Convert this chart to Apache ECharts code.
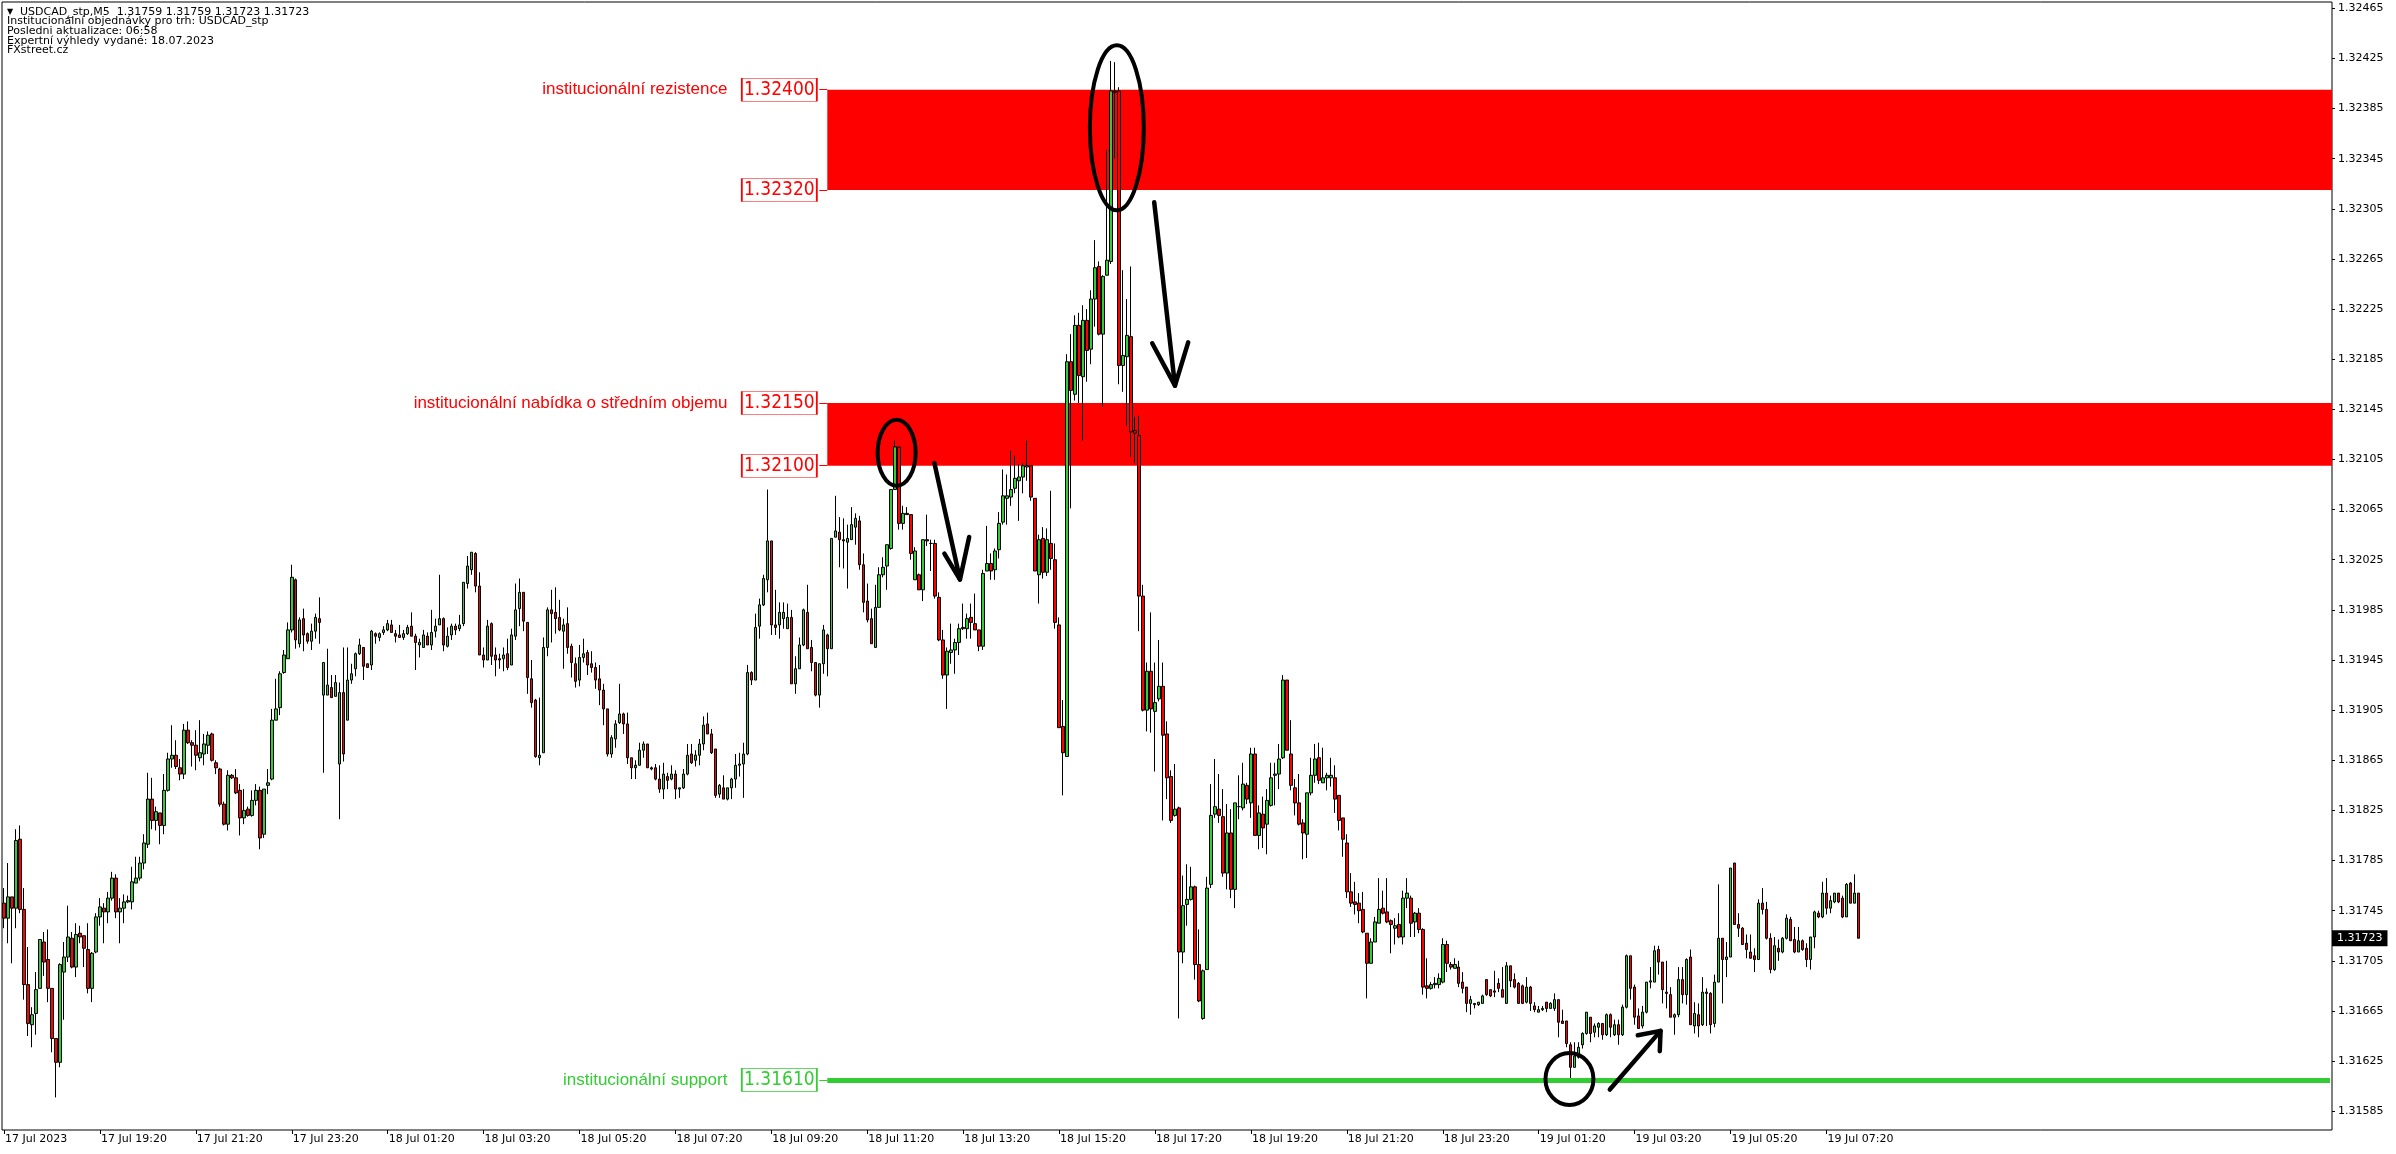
<!DOCTYPE html>
<html><head><meta charset="utf-8">
<script src="https://cdn.jsdelivr.net/npm/echarts@6/dist/echarts.min.js"></script>
<style>html,body{margin:0;padding:0;background:#fff;}#c{width:2396px;height:1154px;}</style>
</head><body><div id="c"></div>
<script>
const xTickLabels = ["17 Jul 2023","17 Jul 19:20","17 Jul 21:20","17 Jul 23:20","18 Jul 01:20","18 Jul 03:20","18 Jul 05:20","18 Jul 07:20","18 Jul 09:20","18 Jul 11:20","18 Jul 13:20","18 Jul 15:20","18 Jul 17:20","18 Jul 19:20","18 Jul 21:20","18 Jul 23:20","19 Jul 01:20","19 Jul 03:20","19 Jul 05:20","19 Jul 07:20"];
const yTicks = [1.31585,1.31625,1.31665,1.31705,1.31745,1.31785,1.31825,1.31865,1.31905,1.31945,1.31985,1.32025,1.32065,1.32105,1.32145,1.32185,1.32225,1.32265,1.32305,1.32345,1.32385,1.32425,1.32465];

const openPrices = [
1.31751,1.31739,1.31756,1.31747,1.31802,1.31746,1.31686,1.31654,1.31663,1.31683,
1.31720,1.31706,1.31683,1.31643,1.31624,1.31696,1.31708,1.31723,1.31700,1.31727,
1.31725,1.31714,1.31683,1.31712,1.31740,1.31747,1.31744,1.31755,1.31771,1.31744,
1.31747,1.31752,1.31752,1.31767,1.31771,1.31783,1.31798,1.31834,1.31817,1.31823,
1.31813,1.31841,1.31866,1.31869,1.31859,1.31854,1.31889,1.31879,1.31877,1.31867,
1.31870,1.31877,1.31886,1.31863,1.31858,1.31830,1.31814,1.31853,1.31851,1.31841,
1.31819,1.31826,1.31821,1.31833,1.31841,1.31806,1.31845,1.31850,1.31897,1.31907,
1.31935,1.31946,1.31969,1.32009,1.31958,1.31978,1.31966,1.31960,1.31968,1.31978,
1.31917,1.31917,1.31923,1.31916,1.31862,1.31919,1.31897,1.31929,1.31938,1.31950,
1.31955,1.31942,1.31941,1.31966,1.31963,1.31967,1.31969,1.31973,1.31966,1.31965,
1.31963,1.31966,1.31972,1.31964,1.31957,1.31955,1.31964,1.31957,1.31968,1.31973,
1.31978,1.31956,1.31965,1.31972,1.31970,1.31974,1.32006,1.32017,1.32030,1.32004,
1.31949,1.31945,1.31974,1.31949,1.31946,1.31946,1.31950,1.31941,1.31964,1.31986,
1.31999,1.31975,1.31930,1.31913,1.31867,1.31871,1.31955,1.31985,1.31983,1.31979,
1.31968,1.31974,1.31956,1.31942,1.31929,1.31947,1.31951,1.31942,1.31939,1.31930,
1.31921,1.31906,1.31870,1.31882,1.31895,1.31902,1.31894,1.31867,1.31859,1.31861,
1.31873,1.31878,1.31859,1.31859,1.31850,1.31842,1.31852,1.31850,1.31854,1.31842,
1.31843,1.31854,1.31870,1.31865,1.31869,1.31878,1.31894,1.31886,1.31874,1.31838,
1.31843,1.31834,1.31843,1.31850,1.31861,1.31862,1.31870,1.31935,1.31929,1.31972,
1.31989,1.32009,1.32040,1.31973,1.31973,1.31978,1.31970,1.31979,1.31926,1.31938,
1.31957,1.31983,1.31955,1.31943,1.31917,1.31942,1.31965,1.31954,1.32043,1.32047,
1.32041,1.32039,1.32041,1.32051,1.32056,1.32021,1.31992,1.31978,1.31955,1.31987,
1.32013,1.32020,1.32034,1.32081,1.32115,1.32054,1.32062,1.32061,1.32009,1.32013,
1.32001,1.32041,1.32038,1.32038,1.31995,1.31961,1.31933,1.31951,1.31953,1.31959,
1.31970,1.31970,1.31979,1.31974,1.31969,1.31956,1.32016,1.32022,1.32017,1.32033,
1.32055,1.32074,1.32075,1.32082,1.32088,1.32091,1.32099,1.32100,1.32074,1.32013,
1.32042,1.32015,1.32038,1.32025,1.31973,1.31892,1.31868,1.32183,1.32157,1.32212,
1.32171,1.32216,1.32193,1.32233,1.32259,1.32205,1.32252,1.32263,1.32399,1.32399,
1.32180,1.32187,1.32203,1.32128,1.32124,1.31996,1.31905,1.31936,1.31904,1.31914,
1.31924,1.31886,1.31852,1.31821,1.31827,1.31712,1.31750,1.31754,1.31764,1.31702,
1.31659,1.31698,1.31766,1.31822,1.31826,1.31820,1.31775,1.31807,1.31762,1.31828,
1.31827,1.31845,1.31831,1.31870,1.31805,1.31822,1.31814,1.31829,1.31853,1.31854,
1.31867,1.31929,1.31870,1.31843,1.31831,1.31815,1.31806,1.31839,1.31853,1.31867,
1.31847,1.31851,1.31851,1.31851,1.31837,1.31819,1.31799,1.31760,1.31752,1.31751,
1.31746,1.31727,1.31703,1.31720,1.31735,1.31747,1.31744,1.31737,1.31731,1.31734,
1.31724,1.31755,1.31755,1.31736,1.31743,1.31730,1.31685,1.31683,1.31686,1.31686,
1.31688,1.31718,1.31702,1.31699,1.31700,1.31688,1.31684,1.31671,1.31671,1.31670,
1.31671,1.31690,1.31682,1.31681,1.31687,1.31682,1.31671,1.31701,1.31690,1.31687,
1.31685,1.31672,1.31684,1.31669,1.31664,1.31666,1.31672,1.31667,1.31667,1.31674,
1.31657,1.31657,1.31638,1.31620,1.31628,1.31638,1.31647,1.31660,1.31648,1.31652,
1.31655,1.31646,1.31662,1.31646,1.31654,1.31646,1.31668,1.31709,1.31684,1.31661,
1.31653,1.31664,1.31688,1.31688,1.31714,1.31704,1.31680,1.31678,1.31660,1.31662,
1.31690,1.31678,1.31708,1.31653,1.31662,1.31654,1.31680,1.31679,1.31655,1.31688,
1.31723,1.31706,1.31708,1.31783,1.31734,1.31731,1.31719,1.31712,1.31709,1.31706,
1.31751,1.31746,1.31723,1.31698,1.31715,1.31712,1.31723,1.31738,1.31722,1.31712,
1.31721,1.31715,1.31706,1.31724,1.31743,1.31740,1.31759,1.31747,1.31752,1.31759,
1.31755,1.31740,1.31767,1.31751,1.31759];

const highPrices = [
1.31763,1.31783,1.31756,1.31810,1.31813,1.31763,1.31716,1.31668,1.31696,1.31722,
1.31728,1.31730,1.31683,1.31643,1.31703,1.31720,1.31749,1.31728,1.31735,1.31733,
1.31725,1.31735,1.31712,1.31743,1.31755,1.31751,1.31760,1.31776,1.31774,1.31755,
1.31758,1.31757,1.31780,1.31788,1.31788,1.31806,1.31855,1.31851,1.31828,1.31823,
1.31854,1.31871,1.31893,1.31881,1.31866,1.31894,1.31896,1.31881,1.31889,1.31897,
1.31886,1.31888,1.31887,1.31865,1.31859,1.31832,1.31857,1.31854,1.31858,1.31846,
1.31842,1.31828,1.31841,1.31846,1.31844,1.31842,1.31858,1.31906,1.31930,1.31936,
1.31953,1.31975,1.32021,1.32010,1.31979,1.31986,1.31967,1.31974,1.31982,1.31995,
1.31943,1.31954,1.31933,1.31933,1.31927,1.31955,1.31955,1.31942,1.31951,1.31962,
1.31955,1.31942,1.31969,1.31967,1.31967,1.31972,1.31977,1.31977,1.31969,1.31973,
1.31969,1.31973,1.31983,1.31966,1.31962,1.31969,1.31967,1.31985,1.31978,1.32013,
1.31979,1.31971,1.31974,1.31974,1.31981,1.32007,1.32028,1.32031,1.32031,1.32015,
1.31955,1.31977,1.31975,1.31955,1.31950,1.31955,1.31962,1.31970,1.32006,1.32010,
1.31999,1.31975,1.31945,1.31914,1.31915,1.31963,1.31987,1.32001,1.32003,1.31993,
1.31978,1.31987,1.31958,1.31947,1.31957,1.31962,1.31953,1.31952,1.31943,1.31941,
1.31926,1.31906,1.31885,1.31897,1.31926,1.31903,1.31903,1.31867,1.31865,1.31879,
1.31880,1.31878,1.31860,1.31862,1.31861,1.31863,1.31855,1.31861,1.31857,1.31843,
1.31858,1.31878,1.31878,1.31873,1.31882,1.31900,1.31903,1.31890,1.31874,1.31846,
1.31853,1.31843,1.31851,1.31870,1.31871,1.31879,1.31941,1.31936,1.31982,1.31994,
1.32013,1.32081,1.32040,1.32001,1.31991,1.31991,1.31990,1.31985,1.31948,1.31963,
1.31986,1.32005,1.31961,1.31943,1.31942,1.31973,1.31966,1.32042,1.32076,1.32059,
1.32058,1.32053,1.32067,1.32062,1.32060,1.32030,1.32006,1.31986,1.32005,1.32019,
1.32027,1.32037,1.32081,1.32120,1.32115,1.32068,1.32067,1.32061,1.32035,1.32014,
1.32041,1.32061,1.32041,1.32041,1.31999,1.31969,1.31955,1.31974,1.31962,1.31974,
1.31990,1.31982,1.31990,1.31998,1.31969,1.32017,1.32052,1.32030,1.32034,1.32063,
1.32097,1.32093,1.32112,1.32108,1.32101,1.32102,1.32120,1.32100,1.32074,1.32045,
1.32051,1.32050,1.32080,1.32038,1.31979,1.31913,1.32189,1.32205,1.32220,1.32222,
1.32228,1.32225,1.32240,1.32280,1.32263,1.32252,1.32352,1.32423,1.32422,1.32402,
1.32256,1.32233,1.32259,1.32139,1.32140,1.32005,1.31943,1.31983,1.31943,1.31961,
1.31943,1.31896,1.31857,1.31862,1.31828,1.31773,1.31782,1.31780,1.31765,1.31730,
1.31698,1.31772,1.31846,1.31866,1.31854,1.31842,1.31830,1.31826,1.31831,1.31853,
1.31863,1.31847,1.31875,1.31875,1.31829,1.31836,1.31842,1.31863,1.31863,1.31878,
1.31933,1.31929,1.31897,1.31850,1.31854,1.31818,1.31839,1.31867,1.31878,1.31879,
1.31875,1.31855,1.31867,1.31861,1.31837,1.31819,1.31806,1.31775,1.31768,1.31759,
1.31760,1.31727,1.31723,1.31740,1.31771,1.31761,1.31771,1.31738,1.31739,1.31743,
1.31761,1.31771,1.31757,1.31744,1.31747,1.31731,1.31707,1.31688,1.31692,1.31695,
1.31723,1.31721,1.31704,1.31707,1.31705,1.31696,1.31684,1.31677,1.31671,1.31672,
1.31678,1.31690,1.31682,1.31697,1.31691,1.31700,1.31704,1.31701,1.31695,1.31688,
1.31686,1.31692,1.31685,1.31672,1.31669,1.31669,1.31672,1.31672,1.31679,1.31674,
1.31666,1.31657,1.31640,1.31640,1.31640,1.31648,1.31664,1.31660,1.31655,1.31656,
1.31655,1.31663,1.31663,1.31658,1.31658,1.31670,1.31710,1.31709,1.31686,1.31667,
1.31669,1.31688,1.31700,1.31717,1.31717,1.31704,1.31705,1.31684,1.31663,1.31700,
1.31700,1.31707,1.31714,1.31672,1.31671,1.31692,1.31683,1.31680,1.31694,1.31766,
1.31723,1.31720,1.31779,1.31783,1.31743,1.31732,1.31726,1.31726,1.31715,1.31754,
1.31763,1.31752,1.31727,1.31724,1.31722,1.31724,1.31742,1.31740,1.31732,1.31732,
1.31722,1.31719,1.31724,1.31745,1.31745,1.31768,1.31771,1.31757,1.31759,1.31759,
1.31757,1.31767,1.31768,1.31774,1.31759];

const lowPrices = [
1.31731,1.31719,1.31703,1.31731,1.31743,1.31674,1.31645,1.31636,1.31646,1.31683,
1.31693,1.31672,1.31632,1.31596,1.31620,1.31658,1.31704,1.31699,1.31692,1.31719,
1.31700,1.31679,1.31672,1.31711,1.31733,1.31719,1.31735,1.31753,1.31739,1.31719,
1.31735,1.31751,1.31746,1.31767,1.31769,1.31778,1.31795,1.31810,1.31809,1.31798,
1.31806,1.31840,1.31859,1.31858,1.31849,1.31850,1.31878,1.31860,1.31857,1.31864,
1.31861,1.31870,1.31864,1.31854,1.31828,1.31813,1.31809,1.31850,1.31838,1.31805,
1.31814,1.31820,1.31820,1.31829,1.31794,1.31803,1.31838,1.31849,1.31897,1.31901,
1.31934,1.31946,1.31967,1.31954,1.31955,1.31952,1.31958,1.31953,1.31962,1.31958,
1.31855,1.31917,1.31915,1.31916,1.31818,1.31864,1.31897,1.31926,1.31932,1.31949,
1.31929,1.31939,1.31937,1.31958,1.31960,1.31965,1.31968,1.31967,1.31959,1.31963,
1.31961,1.31965,1.31964,1.31937,1.31947,1.31955,1.31957,1.31953,1.31963,1.31973,
1.31952,1.31955,1.31961,1.31965,1.31968,1.31972,1.32002,1.32013,1.31999,1.31949,
1.31939,1.31945,1.31941,1.31932,1.31938,1.31936,1.31937,1.31941,1.31961,1.31972,
1.31968,1.31918,1.31907,1.31867,1.31861,1.31871,1.31948,1.31959,1.31966,1.31968,
1.31938,1.31950,1.31931,1.31923,1.31924,1.31943,1.31933,1.31935,1.31922,1.31909,
1.31893,1.31868,1.31867,1.31875,1.31894,1.31886,1.31862,1.31850,1.31850,1.31861,
1.31867,1.31859,1.31857,1.31849,1.31839,1.31834,1.31842,1.31849,1.31834,1.31835,
1.31842,1.31853,1.31862,1.31860,1.31861,1.31873,1.31886,1.31870,1.31835,1.31835,
1.31834,1.31833,1.31834,1.31843,1.31852,1.31835,1.31869,1.31925,1.31929,1.31962,
1.31988,1.31999,1.31965,1.31965,1.31962,1.31970,1.31970,1.31926,1.31918,1.31938,
1.31956,1.31954,1.31936,1.31916,1.31907,1.31934,1.31932,1.31954,1.32043,1.32019,
1.32018,1.32002,1.32041,1.32037,1.32017,1.31983,1.31975,1.31958,1.31955,1.31987,
1.32011,1.32001,1.32033,1.32081,1.32049,1.32049,1.32061,1.32025,1.32009,1.32001,
1.31992,1.32036,1.32016,1.31994,1.31960,1.31930,1.31906,1.31942,1.31934,1.31949,
1.31969,1.31962,1.31962,1.31969,1.31952,1.31953,1.32016,1.32009,1.32009,1.32026,
1.32053,1.32053,1.32068,1.32078,1.32056,1.32078,1.32088,1.32072,1.32016,1.31990,
1.32010,1.32012,1.32017,1.31970,1.31891,1.31837,1.31868,1.32066,1.32152,1.32150,
1.32120,1.32167,1.32181,1.32211,1.32204,1.32147,1.32252,1.32261,1.32345,1.32165,
1.32159,1.32132,1.32107,1.32102,1.31968,1.31904,1.31888,1.31887,1.31856,1.31912,
1.31817,1.31834,1.31815,1.31820,1.31659,1.31703,1.31733,1.31753,1.31690,1.31672,
1.31658,1.31698,1.31763,1.31819,1.31815,1.31772,1.31762,1.31755,1.31747,1.31818,
1.31825,1.31830,1.31819,1.31805,1.31794,1.31795,1.31790,1.31828,1.31829,1.31842,
1.31866,1.31873,1.31841,1.31821,1.31813,1.31786,1.31787,1.31837,1.31847,1.31846,
1.31847,1.31841,1.31844,1.31823,1.31809,1.31788,1.31755,1.31748,1.31742,1.31735,
1.31727,1.31675,1.31703,1.31720,1.31735,1.31742,1.31735,1.31711,1.31718,1.31723,
1.31718,1.31747,1.31724,1.31724,1.31727,1.31678,1.31675,1.31682,1.31683,1.31683,
1.31687,1.31696,1.31698,1.31699,1.31684,1.31679,1.31664,1.31662,1.31667,1.31669,
1.31671,1.31677,1.31676,1.31676,1.31680,1.31676,1.31671,1.31684,1.31683,1.31671,
1.31671,1.31671,1.31665,1.31664,1.31664,1.31665,1.31664,1.31667,1.31665,1.31644,
1.31655,1.31636,1.31610,1.31620,1.31627,1.31635,1.31646,1.31640,1.31644,1.31644,
1.31642,1.31645,1.31644,1.31645,1.31638,1.31645,1.31667,1.31674,1.31654,1.31651,
1.31651,1.31663,1.31683,1.31688,1.31694,1.31671,1.31667,1.31660,1.31646,1.31660,
1.31671,1.31670,1.31654,1.31647,1.31644,1.31653,1.31653,1.31647,1.31652,1.31688,
1.31671,1.31692,1.31708,1.31734,1.31724,1.31718,1.31707,1.31707,1.31696,1.31706,
1.31742,1.31722,1.31695,1.31697,1.31705,1.31711,1.31722,1.31721,1.31711,1.31712,
1.31713,1.31700,1.31698,1.31715,1.31739,1.31739,1.31742,1.31743,1.31751,1.31751,
1.31739,1.31740,1.31751,1.31751,1.31723];

const closePrices = [
1.31739,1.31756,1.31747,1.31801,1.31746,1.31686,1.31655,1.31662,1.31682,1.31722,
1.31704,1.31683,1.31643,1.31624,1.31702,1.31708,1.31724,1.31700,1.31726,1.31724,
1.31715,1.31683,1.31711,1.31740,1.31748,1.31744,1.31755,1.31771,1.31744,1.31747,
1.31752,1.31753,1.31768,1.31771,1.31783,1.31799,1.31834,1.31817,1.31824,1.31813,
1.31841,1.31866,1.31869,1.31860,1.31854,1.31889,1.31879,1.31877,1.31869,1.31871,
1.31878,1.31885,1.31865,1.31859,1.31830,1.31814,1.31853,1.31851,1.31839,1.31819,
1.31825,1.31821,1.31833,1.31841,1.31803,1.31842,1.31847,1.31897,1.31906,1.31934,
1.31949,1.31969,1.32011,1.31961,1.31977,1.31965,1.31960,1.31968,1.31979,1.31975,
1.31943,1.31925,1.31915,1.31927,1.31919,1.31870,1.31929,1.31934,1.31950,1.31957,
1.31940,1.31939,1.31968,1.31964,1.31966,1.31969,1.31974,1.31967,1.31964,1.31963,
1.31966,1.31971,1.31964,1.31959,1.31959,1.31965,1.31957,1.31967,1.31972,1.31978,
1.31957,1.31964,1.31972,1.31969,1.31973,1.32007,1.32020,1.32031,1.32004,1.31949,
1.31945,1.31972,1.31948,1.31945,1.31945,1.31949,1.31939,1.31965,1.31985,1.31999,
1.31976,1.31931,1.31911,1.31868,1.31869,1.31955,1.31985,1.31982,1.31978,1.31969,
1.31973,1.31955,1.31943,1.31928,1.31947,1.31950,1.31941,1.31939,1.31929,1.31921,
1.31906,1.31870,1.31883,1.31894,1.31902,1.31894,1.31867,1.31859,1.31861,1.31873,
1.31878,1.31859,1.31858,1.31850,1.31842,1.31854,1.31849,1.31854,1.31842,1.31843,
1.31854,1.31869,1.31863,1.31869,1.31878,1.31893,1.31886,1.31871,1.31837,1.31845,
1.31834,1.31843,1.31850,1.31861,1.31862,1.31870,1.31935,1.31929,1.31971,1.31989,
1.32010,1.32040,1.31973,1.31971,1.31983,1.31983,1.31979,1.31926,1.31938,1.31957,
1.31985,1.31954,1.31943,1.31917,1.31942,1.31969,1.31954,1.32042,1.32048,1.32041,
1.32040,1.32042,1.32053,1.32058,1.32021,1.31991,1.31977,1.31958,1.31987,1.32013,
1.32019,1.32037,1.32081,1.32115,1.32054,1.32062,1.32061,1.32030,1.32032,1.32001,
1.32041,1.32040,1.32038,1.31996,1.31961,1.31933,1.31952,1.31953,1.31959,1.31970,
1.31971,1.31978,1.31975,1.31969,1.31956,1.32014,1.32022,1.32016,1.32032,1.32054,
1.32076,1.32076,1.32081,1.32090,1.32091,1.32100,1.32100,1.32075,1.32016,1.32041,
1.32015,1.32041,1.32026,1.31975,1.31891,1.31871,1.32183,1.32160,1.32212,1.32172,
1.32216,1.32192,1.32233,1.32258,1.32205,1.32251,1.32264,1.32399,1.32398,1.32180,
1.32188,1.32204,1.32127,1.32126,1.31996,1.31905,1.31936,1.31906,1.31911,1.31924,
1.31885,1.31851,1.31817,1.31826,1.31712,1.31749,1.31754,1.31764,1.31702,1.31673,
1.31697,1.31763,1.31821,1.31828,1.31821,1.31775,1.31807,1.31762,1.31831,1.31828,
1.31846,1.31834,1.31870,1.31805,1.31823,1.31811,1.31833,1.31851,1.31854,1.31866,
1.31929,1.31873,1.31845,1.31831,1.31814,1.31807,1.31839,1.31853,1.31866,1.31849,
1.31851,1.31853,1.31853,1.31834,1.31817,1.31802,1.31760,1.31751,1.31750,1.31745,
1.31728,1.31703,1.31720,1.31736,1.31746,1.31743,1.31736,1.31734,1.31733,1.31724,
1.31755,1.31759,1.31735,1.31743,1.31730,1.31684,1.31683,1.31686,1.31687,1.31691,
1.31718,1.31703,1.31700,1.31702,1.31687,1.31683,1.31671,1.31674,1.31670,1.31672,
1.31677,1.31678,1.31677,1.31680,1.31683,1.31676,1.31701,1.31689,1.31684,1.31671,
1.31671,1.31684,1.31671,1.31666,1.31666,1.31667,1.31667,1.31671,1.31674,1.31656,
1.31655,1.31639,1.31620,1.31629,1.31636,1.31647,1.31664,1.31647,1.31653,1.31655,
1.31646,1.31662,1.31652,1.31654,1.31646,1.31668,1.31709,1.31683,1.31660,1.31651,
1.31664,1.31688,1.31689,1.31713,1.31704,1.31682,1.31679,1.31660,1.31662,1.31690,
1.31678,1.31706,1.31654,1.31663,1.31653,1.31680,1.31679,1.31654,1.31688,1.31723,
1.31706,1.31708,1.31779,1.31734,1.31731,1.31718,1.31714,1.31707,1.31706,1.31751,
1.31746,1.31723,1.31698,1.31717,1.31712,1.31723,1.31739,1.31721,1.31712,1.31721,
1.31714,1.31706,1.31724,1.31744,1.31740,1.31759,1.31747,1.31753,1.31759,1.31752,
1.31740,1.31766,1.31751,1.31759,1.31723];

const resistanceZone = [1.32320, 1.32400];
const midZone = [1.32100, 1.32150];
const supportLevel = 1.31610;
const zoneTitles = ["institucionální rezistence", "institucionální nabídka o středním objemu", "institucionální support"];
const headerLines = ["Institucionální objednávky pro trh: USDCAD_stp", "Posledni aktualizace: 06:58", "Expertní výhledy vydané: 18.07.2023", "FXstreet.cz"];
const symbolTitle = "USDCAD_stp,M5";

// annotation anchors in (bar index, price)
const annotationEllipses = [[271.7, 1.324354, 285.2, 1.323038], [218.6, 1.321367, 228.1, 1.320840], [385.7, 1.316315, 397.7, 1.315900]];
const annotationArrows = [
  {tail: [287.8, 1.323102], tip: [293.0, 1.321639], wings: [[287.3, 1.321977], [296.3, 1.321985]]},
  {tail: [232.8, 1.321022], tip: [239.2, 1.320092], wings: [[235.3, 1.320299], [241.5, 1.320432]]},
  {tail: [401.8, 1.316023], tip: [414.5, 1.316491], wings: [[408.8, 1.316456], [414.3, 1.316329]]}
];

const SLOTS = 583;
const categories = Array.from({length: SLOTS}, (_, i) => String(i));
const candleData = openPrices.map((o, i) => [o, closePrices[i], lowPrices[i], highPrices[i]]);
const last = openPrices.length - 1;
const lastClose = closePrices[last];

const RED = '#ff0000', GREEN = '#32cd32';
const ZONE_START = 206, BOX_IDX = 194, TITLE_IDX = 181, CONN_FROM = 204;
const showTick = (i) => i % 24 === 0 && i / 24 < xTickLabels.length;

function levelBox(price, color) {
  return {
    coord: [BOX_IDX, price], value: price.toFixed(5), symbol: 'rect', symbolSize: [75, 23],
    itemStyle: {color: '#fff', borderColor: color, borderWidth: 1},
    label: {show: true, position: 'inside', formatter: price.toFixed(5), color: color, fontSize: 19, fontFamily: "'DejaVu Sans Condensed','Liberation Sans',sans-serif"}
  };
}
function title(text, price, color) {
  return {
    coord: [TITLE_IDX, price], symbol: 'circle', symbolSize: 0,
    label: {show: true, position: 'left', distance: 0, formatter: text, color: color, fontSize: 17, fontFamily: "'Liberation Sans',sans-serif"}
  };
}
function connector(price, color) {
  return [{coord: [CONN_FROM, price], lineStyle: {color: color, width: 1, type: 'solid'}, label: {show: false}}, {coord: [ZONE_START, price]}];
}

const chart = echarts.init(document.getElementById('c'), null, {renderer: 'canvas'});
chart.setOption({
  animation: false,
  backgroundColor: '#fff',
  grid: {left: 2, right: 64, top: 2, bottom: 24, show: true, borderColor: '#000', borderWidth: 1, backgroundColor: 'transparent'},
  xAxis: {
    type: 'category', data: categories, boundaryGap: true,
    axisLine: {show: false},
    axisTick: {show: true, alignWithLabel: true, length: 4, interval: showTick, lineStyle: {color: '#000'}},
    axisLabel: {interval: showTick, formatter: (v, i) => xTickLabels[i / 24] || '', align: 'left', margin: 4,
      color: '#000', fontFamily: "'DejaVu Sans',sans-serif", fontSize: 11, padding: [0, 0, 0, 1]},
    splitLine: {show: false}
  },
  yAxis: {
    type: 'value', position: 'right', min: 1.3157, max: 1.3247, scale: true,
    axisLine: {show: false},
    axisTick: {show: true, customValues: yTicks, length: 3, inside: false, lineStyle: {color: '#000'}},
    axisLabel: {customValues: yTicks, formatter: (v) => v.toFixed(5), color: '#000', fontFamily: "'DejaVu Sans',sans-serif", fontSize: 11, margin: 6},
    splitLine: {show: false}
  },
  series: [{
    type: 'candlestick', data: candleData, barWidth: 3, z: 3,
    itemStyle: {color: GREEN, color0: RED, borderColor: '#000', borderColor0: '#000', borderWidth: 1},
    markArea: {
      silent: true, z: 1,
      itemStyle: {color: RED, opacity: 1},
      data: [
        [{xAxis: ZONE_START, yAxis: resistanceZone[1]}, {yAxis: resistanceZone[0]}],
        [{xAxis: ZONE_START, yAxis: midZone[1]}, {yAxis: midZone[0]}]
      ]
    },
    markLine: {
      silent: true, symbol: ['none', 'none'], animation: false,
      data: [
        [{coord: [ZONE_START, supportLevel], lineStyle: {color: GREEN, width: 5, type: 'solid'}, label: {show: false}}, {coord: [SLOTS - 1, supportLevel]}],
        connector(resistanceZone[1], RED),
        connector(resistanceZone[0], RED),
        connector(midZone[1], RED),
        connector(midZone[0], RED),
        connector(supportLevel, GREEN)
      ]
    },
    markPoint: {
      silent: true, animation: false,
      data: [
        levelBox(resistanceZone[1], RED), levelBox(resistanceZone[0], RED),
        levelBox(midZone[1], RED), levelBox(midZone[0], RED),
        levelBox(supportLevel, GREEN),
        title(zoneTitles[0], resistanceZone[1], RED),
        title(zoneTitles[1], midZone[1], RED),
        title(zoneTitles[2], supportLevel, GREEN),
        {coord: [SLOTS - 1, lastClose], symbol: 'circle', symbolSize: 0,
          label: {show: true, position: 'right', distance: 2, formatter: lastClose.toFixed(5), color: '#fff', backgroundColor: '#000',
            padding: [3, 5, 2, 5], fontFamily: "'DejaVu Sans',sans-serif", fontSize: 11}}
      ]
    }
  }]
});

function px(idx, price) {
  const x0 = chart.convertToPixel({xAxisIndex: 0}, 0);
  const x1 = chart.convertToPixel({xAxisIndex: 0}, 1);
  const y = chart.convertToPixel({yAxisIndex: 0}, price);
  return [x0 + (x1 - x0) * idx, y];
}

const graphics = [];
const hdrFont = "11px 'DejaVu Sans', sans-serif";
graphics.push({type: 'text', x: 7, y: 11.7, style: {text: '▼', font: "8px 'DejaVu Sans', sans-serif", fill: '#000', verticalAlign: 'middle'}});
graphics.push({type: 'text', x: 20, y: 11.7, style: {
  text: symbolTitle + '  ' + [openPrices[last], highPrices[last], lowPrices[last], closePrices[last]].map(v => v.toFixed(5)).join(' '),
  font: hdrFont, fill: '#000', verticalAlign: 'middle'}});
headerLines.forEach((t, k) => graphics.push({type: 'text', x: 7, y: 21.3 + k * 9.75, style: {text: t, font: hdrFont, fill: '#000', verticalAlign: 'middle'}}));

annotationEllipses.forEach(([i0, p0, i1, p1]) => {
  const a = px(i0, p0), b = px(i1, p1);
  graphics.push({type: 'ellipse', z: 100, shape: {cx: (a[0] + b[0]) / 2, cy: (a[1] + b[1]) / 2, rx: Math.abs(b[0] - a[0]) / 2, ry: Math.abs(b[1] - a[1]) / 2},
    style: {fill: 'none', stroke: '#000', lineWidth: 4}});
});
annotationArrows.forEach(ar => {
  const t = px(...ar.tail), tip = px(...ar.tip), w1 = px(...ar.wings[0]), w2 = px(...ar.wings[1]);
  graphics.push({type: 'polyline', z: 100, shape: {points: [t, tip]}, style: {stroke: '#000', lineWidth: 4.5, lineCap: 'round', fill: 'none'}});
  graphics.push({type: 'polyline', z: 100, shape: {points: [w1, tip, w2]}, style: {stroke: '#000', lineWidth: 4.5, lineCap: 'round', lineJoin: 'round', fill: 'none'}});
});
chart.setOption({graphic: graphics});
</script>
</body></html>
